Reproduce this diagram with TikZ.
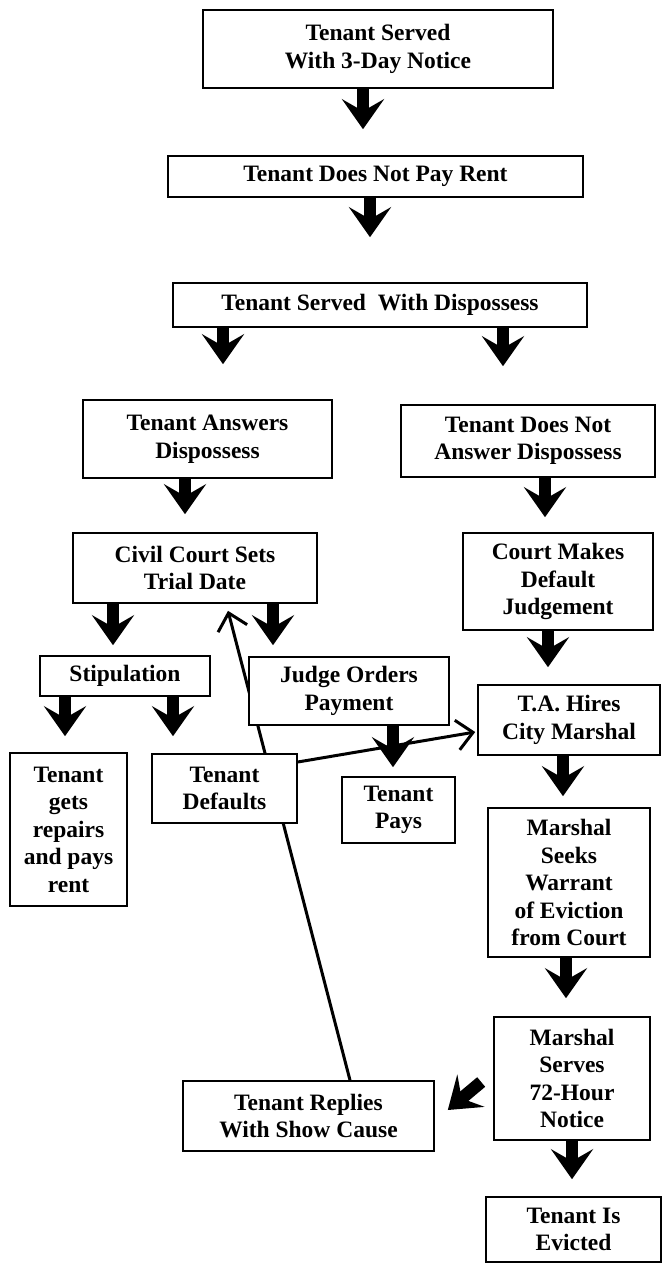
\documentclass[tikz,border=0pt]{standalone}
\usepackage{fontspec}
\setmainfont{Liberation Serif}
\usepackage{tikz}
\usetikzlibrary{arrows.meta, backgrounds}

\begin{document}
\begin{tikzpicture}[
    x=1pt, y=-1pt,
    box/.style={draw, line width=1.6pt, fill=white, align=center, inner sep=0pt, font=\fontsize{23.5}{27.5}\selectfont\bfseries},
    fat/.style={line width=12.5pt, -{Stealth[length=30pt, width=42pt, inset=12pt]}},
    thin/.style={line width=3pt, -{Straight Barb[length=16pt, width=30pt]}}
]
\useasboundingbox (0,0) rectangle (662,1264);

\node[box, minimum width=350pt, minimum height=78pt] (notice) at (378,49) {Tenant Served\\With 3-Day Notice};
\node[box, minimum width=415pt, minimum height=41pt] (norent) at (375.5,176.5) {Tenant Does Not Pay Rent};
\node[box, minimum width=414pt, minimum height=44pt] (dispossess) at (380,305) {Tenant Served\ \ With Dispossess};
\node[box, minimum width=249pt, minimum height=78pt] (answers) at (207.5,439) {Tenant Answers\\Dispossess};
\node[box, minimum width=254pt, minimum height=72pt] (noanswer) at (528,441) {Tenant Does Not\\Answer Dispossess};
\node[box, minimum width=244pt, minimum height=70pt] (trialdate) at (195,568) {Civil Court Sets\\Trial Date};
\node[box, minimum width=190pt, minimum height=97pt] (judgement) at (558,581.5) {Court Makes\\Default\\Judgement};
\node[box, minimum width=170pt, minimum height=40pt] (stipulation) at (125,676) {Stipulation};
\node[box, minimum width=200pt, minimum height=68pt] (orders) at (349,691) {Judge Orders\\Payment};
\node[box, minimum width=182pt, minimum height=70pt] (hires) at (569,720) {T.A. Hires\\City Marshal};
\node[box, minimum width=117pt, minimum height=153pt] (repairs) at (68.5,829.5) {Tenant\\gets\\repairs\\and pays\\rent};
\node[box, minimum width=145pt, minimum height=69pt] (defaults) at (224.5,788.5) {Tenant\\Defaults};
\node[box, minimum width=113pt, minimum height=66pt] (pays) at (398.5,810) {Tenant\\Pays};
\node[box, minimum width=162pt, minimum height=149pt] (seeks) at (569,882.5) {Marshal\\Seeks\\Warrant\\of Eviction\\from Court};
\node[box, minimum width=156pt, minimum height=123pt] (serves) at (572,1078.5) {Marshal\\Serves\\72-Hour\\Notice};
\node[box, minimum width=251pt, minimum height=70pt] (replies) at (308.5,1116) {Tenant Replies\\With Show Cause};
\node[box, minimum width=175pt, minimum height=65pt] (evicted) at (573.5,1229.5) {Tenant Is\\Evicted};

\draw[fat, shorten >=26pt] ([xshift=-15pt]notice.south) -- ([xshift=-12.5pt]norent.north);
\draw[fat, shorten >=45pt] ([xshift=-5.5pt]norent.south) -- ([xshift=-10pt]dispossess.north);
\draw[fat, shorten >=35pt] ([xshift=-157pt]dispossess.south) -- ([xshift=15.5pt]answers.north);
\draw[fat, shorten >=38pt] ([xshift=123pt]dispossess.south) -- ([xshift=-25pt]noanswer.north);
\draw[fat, shorten >=18pt] ([xshift=-22.5pt]answers.south) -- ([xshift=-10pt]trialdate.north);
\draw[fat, shorten >=15pt] ([xshift=17pt]noanswer.south) -- ([xshift=-13pt]judgement.north);
\draw[fat, shorten >=10pt] ([xshift=-82pt]trialdate.south) -- ([xshift=-12pt]stipulation.north);
\draw[fat, shorten >=11pt] ([xshift=78pt]trialdate.south) -- ([xshift=-76pt]orders.north);
\draw[fat, shorten >=16pt] ([xshift=-60pt]stipulation.south) -- ([xshift=-3.5pt]repairs.north);
\draw[fat, shorten >=17pt] ([xshift=48pt]stipulation.south) -- ([xshift=-51.5pt]defaults.north);
\draw[fat, shorten >=9pt] ([xshift=44pt]orders.south) -- ([xshift=-5.5pt]pays.north);
\draw[fat, shorten >=17pt] ([xshift=-10pt]judgement.south) -- ([xshift=-21pt]hires.north);
\draw[fat, shorten >=11pt] ([xshift=-6pt]hires.south) -- ([xshift=-6pt]seeks.north);
\draw[fat, shorten >=18pt] ([xshift=-3pt]seeks.south) -- ([xshift=-6pt]serves.north);
\draw[fat, shorten >=17pt] (serves.south) -- ([xshift=-1.5pt]evicted.north);
\draw[fat] ([xshift=-12pt, yshift=-3.5pt]serves.west) -- ([xshift=13pt, yshift=6pt]replies.east);

\begin{scope}[on background layer]
\draw[thin] ([xshift=41.5pt]replies.north) -- ([xshift=33pt, yshift=-7pt]trialdate.south);
\end{scope}
\draw[thin] ([yshift=26.5pt]defaults.east) -- ([xshift=-2pt, yshift=-12pt]hires.west);
\end{tikzpicture}
\end{document}
